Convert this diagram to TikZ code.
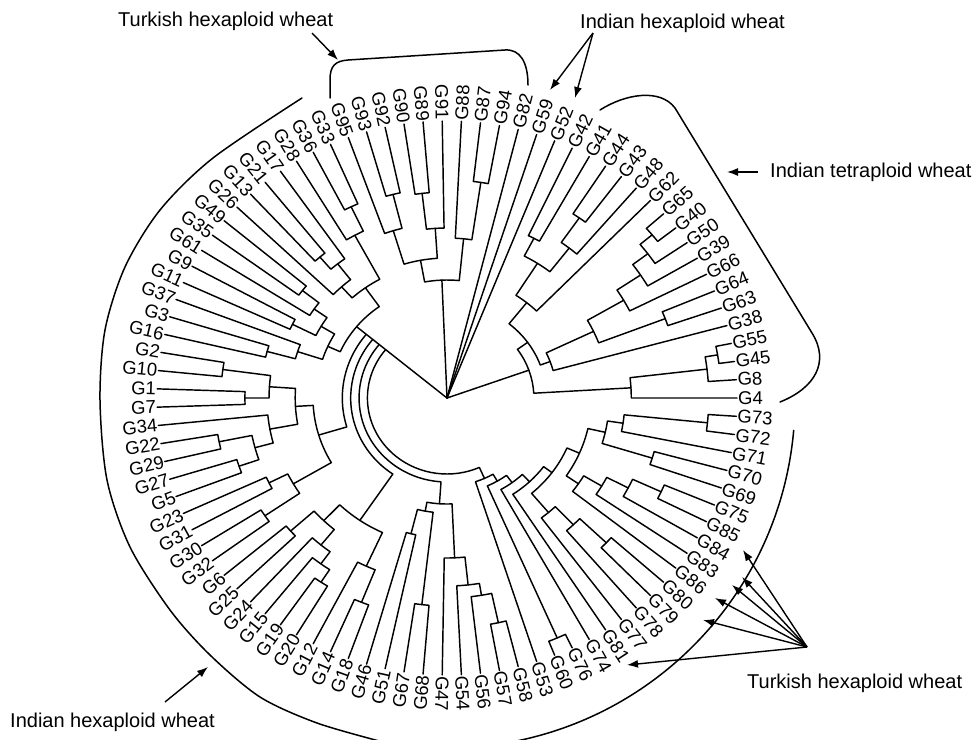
\documentclass[tikz,border=0pt]{standalone}
\usepackage{fontspec}
\setmainfont{Liberation Sans}
\usetikzlibrary{arrows.meta}
\newcommand\dgR{277}
\newcommand\dgLeaf[2]{%
  \pgfmathsetmacro\dgA{(#2-1)*3.7894737}%
  \expandafter\xdef\csname angG#1\endcsname{\dgA}%
  \expandafter\xdef\csname radG#1\endcsname{\dgR}%
  \pgfmathtruncatemacro\dgIn{and(\dgA>90,\dgA<267)}%
  \ifnum\dgIn=1
    \node[lab,anchor=east,rotate=\dgA-180] (G#1) at (\dgA:\dgR pt) {G#1};%
  \else
    \node[lab,anchor=west,rotate=\dgA] (G#1) at (\dgA:\dgR pt) {G#1};%
  \fi}
\newcommand\dgJoinBase[4]{%
  \edef\dgCa{\csname ang#2\endcsname}\edef\dgCb{\csname ang#3\endcsname}%
  \edef\dgRa{\csname rad#2\endcsname}\edef\dgRb{\csname rad#3\endcsname}%
  \draw[br] (\dgCa:\dgRa pt) -- (\dgCa:#4pt) arc[start angle=\dgCa,end angle=\dgCb,radius=#4pt] -- (\dgCb:\dgRb pt);%
  \expandafter\xdef\csname rad#1\endcsname{#4}}
\newcommand\dgJoin[4]{\dgJoinBase{#1}{#2}{#3}{#4}%
  \pgfmathsetmacro\dgM{(\dgCa+\dgCb)/2}%
  \expandafter\xdef\csname ang#1\endcsname{\dgM}}
\newcommand\dgJoinF[4]{\dgJoinBase{#1}{#2}{#3}{#4}%
  \expandafter\xdef\csname ang#1\endcsname{\dgCa}}
\newcommand\dgRoot[1]{%
  \edef\dgCa{\csname ang#1\endcsname}\edef\dgRa{\csname rad#1\endcsname}%
  \draw[br] (0,0) -- (\dgCa:\dgRa pt);}
\begin{document}
\begin{tikzpicture}[x=1pt,y=1pt,
  br/.style={line width=1.45pt, line cap=round, line join=round},
  lab/.style={font=\fontsize{18.5}{18.5}\selectfont, inner sep=1pt},
  ann/.style={font=\fontsize{20}{20}\selectfont, inner sep=0pt},
  arr/.style={line width=1.4pt, -{Latex[length=11pt,width=8pt]}},
  brace/.style={line width=1.5pt, line cap=round}]
\useasboundingbox (0,-739) rectangle (974,0);
\begin{scope}[shift={(447,-398)}, xscale=1.047]
% leaves
\dgLeaf{4}{1}\dgLeaf{8}{2}\dgLeaf{45}{3}\dgLeaf{55}{4}\dgLeaf{38}{5}
\dgLeaf{63}{6}\dgLeaf{64}{7}\dgLeaf{66}{8}\dgLeaf{39}{9}\dgLeaf{50}{10}
\dgLeaf{40}{11}\dgLeaf{65}{12}\dgLeaf{62}{13}\dgLeaf{48}{14}\dgLeaf{43}{15}
\dgLeaf{44}{16}\dgLeaf{41}{17}\dgLeaf{42}{18}\dgLeaf{52}{19}\dgLeaf{59}{20}
\dgLeaf{82}{21}\dgLeaf{94}{22}\dgLeaf{87}{23}\dgLeaf{88}{24}\dgLeaf{91}{25}
\dgLeaf{89}{26}\dgLeaf{90}{27}\dgLeaf{92}{28}\dgLeaf{93}{29}\dgLeaf{95}{30}
\dgLeaf{33}{31}\dgLeaf{36}{32}\dgLeaf{28}{33}\dgLeaf{17}{34}\dgLeaf{21}{35}
\dgLeaf{13}{36}\dgLeaf{26}{37}\dgLeaf{49}{38}\dgLeaf{35}{39}\dgLeaf{61}{40}
\dgLeaf{9}{41}\dgLeaf{11}{42}\dgLeaf{37}{43}\dgLeaf{3}{44}\dgLeaf{16}{45}
\dgLeaf{2}{46}\dgLeaf{10}{47}\dgLeaf{1}{48}\dgLeaf{7}{49}\dgLeaf{34}{50}
\dgLeaf{22}{51}\dgLeaf{29}{52}\dgLeaf{27}{53}\dgLeaf{5}{54}\dgLeaf{23}{55}
\dgLeaf{31}{56}\dgLeaf{30}{57}\dgLeaf{32}{58}\dgLeaf{6}{59}\dgLeaf{25}{60}
\dgLeaf{24}{61}\dgLeaf{15}{62}\dgLeaf{19}{63}\dgLeaf{20}{64}\dgLeaf{12}{65}
\dgLeaf{14}{66}\dgLeaf{18}{67}\dgLeaf{46}{68}\dgLeaf{51}{69}\dgLeaf{67}{70}
\dgLeaf{68}{71}\dgLeaf{47}{72}\dgLeaf{54}{73}\dgLeaf{56}{74}\dgLeaf{57}{75}
\dgLeaf{58}{76}\dgLeaf{53}{77}\dgLeaf{60}{78}\dgLeaf{76}{79}\dgLeaf{74}{80}
\dgLeaf{81}{81}\dgLeaf{77}{82}\dgLeaf{78}{83}\dgLeaf{79}{84}\dgLeaf{80}{85}
\dgLeaf{86}{86}\dgLeaf{83}{87}\dgLeaf{84}{88}\dgLeaf{85}{89}\dgLeaf{75}{90}
\dgLeaf{69}{91}\dgLeaf{70}{92}\dgLeaf{71}{93}\dgLeaf{72}{94}\dgLeaf{73}{95}
% tetraploid cluster
\dgJoin{nA}{G55}{G45}{262}
\dgJoin{nB}{nA}{G8}{250}
\dgJoin{nC}{nB}{G4}{176}
\dgJoin{nDa}{G65}{G40}{255}
\dgJoin{nDb}{nDa}{G50}{240}
\dgJoin{nDc}{nDb}{G39}{222}
\dgJoin{nDd}{nDc}{G66}{195}
\dgJoin{nDe}{G63}{G64}{223}
\dgJoin{nDf}{nDd}{nDe}{155}
\dgJoin{nDg}{nDf}{G38}{105}
\dgJoin{nEa}{G43}{G44}{220}
\dgJoin{nEb}{nEa}{G48}{190}
\dgJoin{nEc}{G41}{G42}{180}
\dgJoin{nEd}{nEb}{nEc}{160}
\dgJoin{nEe}{nEd}{G62}{122}
\dgJoin{nTa}{nDg}{nEe}{95}
\dgJoin{nT}{nTa}{nC}{83}
% top Turkish cluster
\dgJoin{nPa}{G94}{G87}{218}
\dgJoin{nPb}{nPa}{G88}{160}
\dgJoin{nPc}{G89}{G90}{206}
\dgJoin{nPd}{G91}{nPc}{170}
\dgJoin{nPe}{G92}{G93}{210}
\dgJoin{nPf}{nPe}{G95}{175}
\dgJoin{nPg}{nPd}{nPf}{140}
\dgJoin{nPh}{nPb}{nPg}{118}
% left upper
\dgJoin{naa}{G33}{G36}{212}
\dgJoin{nab}{naa}{G28}{185}
\dgJoin{nac}{G21}{G13}{186}
\dgJoin{nad}{G17}{nac}{170}
\dgJoin{nae}{nad}{G26}{150}
\dgJoin{naf}{nab}{nae}{135}
\dgJoin{nba}{G49}{G35}{175}
\dgJoin{nbb}{nba}{G61}{155}
\dgJoin{nbc}{G9}{G11}{165}
\dgJoin{nbd}{nbb}{nbc}{140}
\dgJoin{nbe}{G3}{G16}{178}
\dgJoin{nbf}{G37}{nbe}{150}
\dgJoin{nbg}{nbd}{nbf}{125}
\dgJoin{nU}{naf}{nbg}{112}
% left middle
\dgJoin{nca}{G2}{G10}{216}
\dgJoin{ncb}{G1}{G7}{193}
\dgJoin{ncc}{nca}{ncb}{170}
\dgJoin{nda}{G22}{G29}{222}
\dgJoin{ndb}{G27}{G5}{210}
\dgJoin{ndc}{nda}{ndb}{190}
\dgJoin{ndd}{G34}{ndc}{172}
\dgJoin{nde}{ncc}{ndd}{145}
\dgJoin{nea}{G23}{G31}{190}
\dgJoin{neb}{G30}{G32}{210}
\dgJoin{nec}{nea}{neb}{170}
\dgJoin{nM}{nde}{nec}{128}
% left lower
\dgJoin{nfa}{G6}{G25}{200}
\dgJoin{nfb}{G19}{G20}{220}
\dgJoin{nfc}{G15}{nfb}{205}
\dgJoin{nfd}{G24}{nfc}{190}
\dgJoin{nfe}{nfa}{nfd}{170}
\dgJoin{nga}{G14}{G18}{220}
\dgJoin{ngb}{G12}{nga}{185}
\dgJoin{nLw}{nfe}{ngb}{148}
% bottom middle
\dgJoin{nha}{G46}{G51}{140}
\dgJoin{nhb}{G67}{G68}{208}
\dgJoin{nhc}{nha}{nhb}{115}
\dgJoin{nia}{G57}{G58}{230}
\dgJoin{nib}{G56}{nia}{200}
\dgJoin{nic}{G54}{nib}{188}
\dgJoin{nid}{G47}{nic}{160}
\dgJoin{nBM}{nhc}{nid}{106}
% bottom right
\dgJoin{nQa}{G72}{G73}{250}
\dgJoin{nQb}{G71}{nQa}{170}
\dgJoin{nQc}{G69}{G70}{205}
\dgJoin{nQd}{nQc}{nQb}{155}
\dgJoin{nQe}{G85}{G75}{225}
\dgJoin{nQf}{G84}{nQe}{195}
\dgJoin{nQg}{G83}{nQf}{172}
\dgJoin{nQh}{G86}{nQg}{152}
\dgJoin{nQi}{nQh}{nQd}{138}
\dgJoin{nQj}{G79}{G80}{210}
\dgJoin{nQk}{G78}{nQj}{175}
\dgJoin{nQl}{G77}{nQk}{150}
\dgJoin{nQm}{nQl}{nQi}{125}
\dgJoin{nQn}{G81}{nQm}{115}
\dgJoin{nQo}{G74}{nQn}{105}
\dgJoin{nRa}{G60}{G76}{262}
\dgJoin{nQp}{nRa}{nQo}{96}
\dgJoin{nBR}{G53}{nQp}{88}
% left assembly
\dgJoinF{nLa}{nU}{nM}{100}
\dgJoinF{nLb}{nLa}{nLw}{92}
\dgJoinF{nLc}{nLb}{nBM}{84}
\dgJoinF{nLEFT}{nLc}{nBR}{76}
% root
\dgRoot{nT}\dgRoot{G52}\dgRoot{G59}\dgRoot{G82}\dgRoot{nPh}\dgRoot{nLEFT}
\end{scope}
% group arcs
\draw[brace] plot[smooth] coordinates {(302,-98) (213,-158) (160,-210) (125,-267) (105,-330) (100,-400) (107,-480) (130,-547) (170,-610) (210,-655) (260,-697) (317,-723) (383,-742)};
\draw[brace] (447,-400) ++(-5:348pt) arc[start angle=-5,end angle=-82,radius=348pt];
% braces
\draw[brace] (330,-98) -- (330,-80) .. controls (330,-66) and (335,-61) .. (348,-60) -- (505,-50) .. controls (520,-49) and (528,-62) .. (528,-85);
\draw[brace] (600,-110) .. controls (625,-94) and (660,-88) .. (675,-108) -- (812,-333) .. controls (830,-362) and (815,-388) .. (780,-402);
% annotations
\node[ann,anchor=west] (tTop) at (118,-21) {Turkish hexaploid wheat};
\node[ann,anchor=west] (iTop) at (580,-23) {Indian hexaploid wheat};
\node[ann,anchor=west] (iTet) at (770,-172) {Indian tetraploid wheat};
\node[ann,anchor=west] (tBot) at (747,-683) {Turkish hexaploid wheat};
\node[ann,anchor=west] (iBot) at (10,-722) {Indian hexaploid wheat};
\coordinate (aAs) at (312,-33); \coordinate (aAe) at (338,-60);
\coordinate (aBs) at (593,-33); \coordinate (aBe) at (550,-90); \coordinate (aCe) at (575,-98);
\coordinate (aDs) at (758,-172); \coordinate (aDe) at (727,-172);
\coordinate (aEs) at (165,-702); \coordinate (aEe) at (208,-667);
\coordinate (cv) at (807,-647);
\coordinate (t1) at (743,-550); \coordinate (t2) at (742,-577); \coordinate (t3) at (732,-585);
\coordinate (t4) at (715,-598); \coordinate (t5) at (703,-620); \coordinate (t6) at (627,-665);
\draw[arr] (aAs) -- (aAe);
\draw[arr] (aBs) -- (aBe);
\draw[arr] (aBs) -- (aCe);
\draw[arr] (aDs) -- (aDe);
\draw[arr] (aEs) -- (aEe);
\foreach \t in {t1,t2,t3,t4,t5,t6} \draw[arr] (cv) -- (\t);
\end{tikzpicture}
\end{document}
